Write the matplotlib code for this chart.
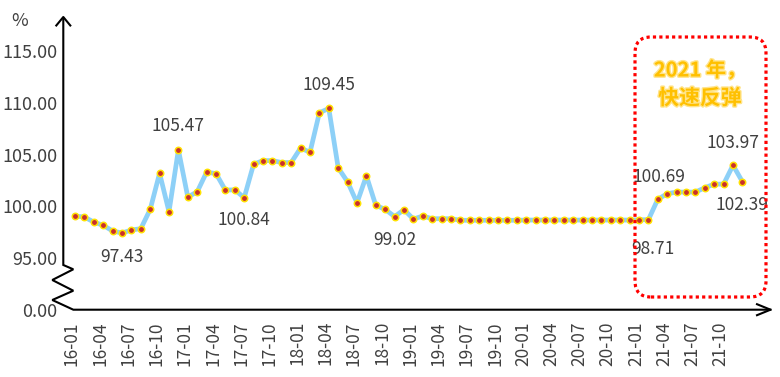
import matplotlib
matplotlib.use("Agg")
import matplotlib.pyplot as plt
from matplotlib.patches import FancyBboxPatch
from matplotlib.transforms import IdentityTransform, ScaledTranslation
import matplotlib.patheffects as pe

plt.rcParams['font.family'] = ['Noto Sans CJK SC', 'DejaVu Sans']

# ---- data ----
years = [16, 17, 18, 19, 20, 21]
months = [f"{y}-{m:02d}" for y in years for m in range(1, 13)]
v2016 = [99.07, 98.97, 98.49, 98.17, 97.63, 97.43, 97.72, 97.85, 99.71, 103.20, 99.49, 105.47]
v2017 = [100.90, 101.41, 103.30, 103.17, 101.57, 101.60, 100.84, 104.07, 104.42, 104.42, 104.23, 104.23]
v2018 = [105.64, 105.22, 109.04, 109.45, 103.72, 102.37, 100.35, 102.95, 100.10, 99.71, 99.02, 99.68]
v2019 = [98.78, 99.07, 98.81, 98.81, 98.81, 98.66, 98.66, 98.66, 98.66, 98.66, 98.66, 98.66]
v2020 = [98.68, 98.68, 98.68, 98.68, 98.68, 98.68, 98.68, 98.68, 98.68, 98.68, 98.68, 98.68]
v2021 = [98.71, 98.71, 100.69, 101.22, 101.38, 101.38, 101.38, 101.80, 102.15, 102.15, 103.97, 102.39]
values = v2016 + v2017 + v2018 + v2019 + v2020 + v2021
xtick_labels = months[::3]
ytick_values = [90, 95, 100, 105, 110, 115]
ytick_labels = ["0.00", "95.00", "100.00", "105.00", "110.00", "115.00"]
# labelled points: (index, dx px, dy px)
labelled = [(5, 0, -24), (11, 0, 24), (18, 0, -22), (27, 0, 23), (34, 0, -23),
            (61, 4, -29), (62, 1, 22), (70, 0, 22), (71, 0, -23)]

W, H = 780, 377
fig = plt.figure(figsize=(W / 100, H / 100), dpi=100)

# pixel geometry
x0px, x1px = 63.3, 771.0
ytop, ybot = 17.0, 310.0
ppx = 9.4      # px per month
ppy = 10.36    # px per unit
first_px = 75.0

ax = fig.add_axes([x0px / W, (H - ybot) / H, (x1px - x0px) / W, (ybot - ytop) / H])
ax.set_xlim((x0px - first_px) / ppx, (x1px - first_px) / ppx)
ax.set_ylim(90, 90 + (ybot - ytop) / ppy)

def d(px, py):
    return (px - first_px) / ppx, 90 + (ybot - py) / ppy

for s in ax.spines.values():
    s.set_visible(False)

tc = '#404040'
xs = list(range(len(values)))
ax.plot(xs, values, color='#8DD0F7', lw=3.4, zorder=3, solid_joinstyle='round')
ax.plot(xs, values, ls='none', marker='o', ms=4.6, mfc='#C9302C', mec='#FFE100', mew=1.1, zorder=4)

for i, dx, dy in labelled:
    ax.annotate(f"{values[i]:.2f}", (i, values[i]), xytext=(dx, dy), textcoords='offset pixels',
                ha='center', va='center', fontsize=12.5, color=tc, zorder=5)

ax.set_yticks(ytick_values)
ax.set_yticklabels(ytick_labels)
ax.set_xticks(list(range(0, len(values), 3)))
ax.set_xticklabels(xtick_labels, rotation=90)
ax.tick_params(axis='y', length=0, pad=4, labelsize=13, labelcolor=tc)
ax.tick_params(axis='x', length=0, pad=8, labelsize=12.5, labelcolor=tc)
shift = ScaledTranslation(-3 / 100, 0, fig.dpi_scale_trans)
for lab in ax.get_xticklabels():
    lab.set_transform(lab.get_transform() + shift)

# axis lines with break
pts = [(63.3, 18), (63.3, 265), (73.3, 269.3), (52.3, 280), (73.3, 290.7), (52.3, 300),
       (73.3, 309.7), (770.5, 309.7)]
xsd, ysd = zip(*[d(*p) for p in pts])
ax.plot(xsd, ysd, color='black', lw=1.5, clip_on=False, zorder=2, solid_joinstyle='miter')
# arrows
for seg in [[(56.3, 25.5), (63.3, 17), (70.3, 25.5)], [(757, 304.2), (770.5, 309.7), (757, 315.2)]]:
    ax_, ay_ = zip(*[d(*p) for p in seg])
    ax.plot(ax_, ay_, color='black', lw=1.5, clip_on=False, zorder=2)

fig.text(20 / W, 1 - 21 / H, "%", ha='center', va='center', fontsize=13, color=tc)

# red dotted rounded box
box = FancyBboxPatch((635, H - 297), 131, 260, boxstyle="round,pad=0,rounding_size=16",
                     transform=IdentityTransform(), fill=False, edgecolor='#FF0000',
                     lw=2.3, ls=(0, (1, 1)), zorder=6)
fig.patches.append(box)

eff = [pe.withStroke(linewidth=2, foreground='#FFE48A')]
fig.text(700 / W, 1 - 70 / H, "2021 年，", ha='center', va='center', fontsize=14.5,
         fontweight='bold', color='#FFC000', path_effects=eff)
fig.text(700 / W, 1 - 98 / H, "快速反弹", ha='center', va='center', fontsize=15,
         fontweight='bold', color='#FFC000', path_effects=eff)

fig.savefig("out.png", dpi=100)
